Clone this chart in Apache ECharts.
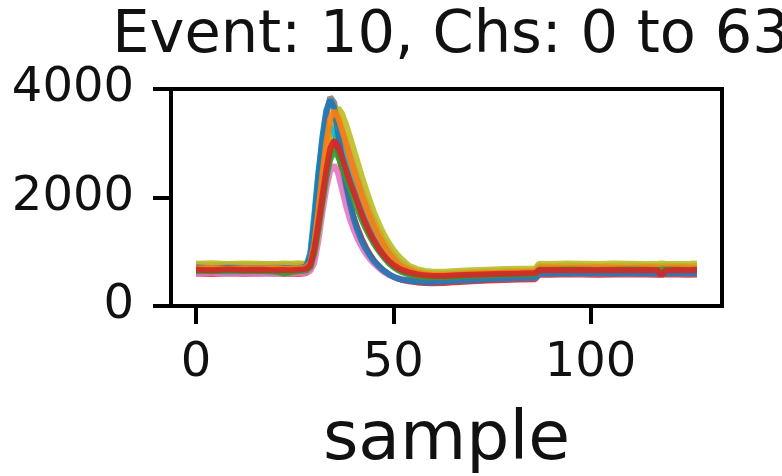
<!DOCTYPE html>
<html>
<head>
<meta charset="utf-8">
<script src="https://cdn.jsdelivr.net/npm/echarts@6.0.0/dist/echarts.min.js"></script>
<style>
  html, body { margin: 0; padding: 0; background: #fff; }
  #chart { width: 782px; height: 476px; }
</style>
</head>
<body>
<div id="chart"></div>
<script>
// sample positions the waveforms are read at
const samples = [0, 4, 8, 12, 16, 20, 22, 24, 26, 27,
  28, 29, 30, 31, 32, 33, 34, 35, 36, 37, 38, 39, 40, 41, 42, 43, 44, 45, 46, 47, 48, 49, 50, 51, 52,
  54, 56, 58, 60, 63, 66, 70, 74, 78, 82, 86,
  87, 90, 94, 98, 102, 106, 110, 114, 117, 118, 119, 122, 125, 127];

// ADC values per channel (last channels of the event, drawn in order)
const ch52 = [720, 730, 715, 725, 720, 710, 725, 720, 730, 720,
  730, 780, 1000, 1400, 1900, 2400, 2780, 2950, 2900, 2740, 2550, 2350, 2150, 1960, 1780, 1610, 1460, 1320, 1190, 1080, 980, 890, 810, 750, 700,
  630, 590, 565, 555, 555, 565, 580, 590, 600, 605, 610,
  690, 695, 685, 690, 695, 690, 685, 695, 690, 685, 690, 695, 690, 685];
const ch53 = [600, 590, 605, 595, 600, 610, 595, 600, 590, 600,
  610, 700, 1150, 1850, 2550, 3050, 3300, 3150, 2850, 2500, 2170, 1880, 1630, 1420, 1240, 1090, 960, 850, 760, 690, 630, 580, 540, 510, 485,
  455, 435, 425, 420, 425, 440, 455, 470, 480, 490, 495,
  580, 575, 585, 580, 575, 580, 585, 580, 575, 580, 585, 580, 575, 580];
const ch54 = [760, 750, 765, 755, 760, 770, 755, 760, 750, 760,
  770, 820, 1050, 1500, 2100, 2700, 3200, 3450, 3400, 3230, 3020, 2800, 2580, 2360, 2150, 1950, 1760, 1590, 1430, 1290, 1160, 1050, 950, 870, 800,
  700, 640, 610, 595, 595, 605, 620, 635, 645, 650, 655,
  740, 735, 745, 740, 735, 740, 745, 740, 735, 740, 745, 740, 735, 740];
const ch55 = [660, 650, 665, 655, 660, 670, 655, 660, 650, 660,
  670, 740, 1050, 1550, 2100, 2650, 3050, 3200, 3100, 2900, 2680, 2450, 2230, 2020, 1820, 1640, 1470, 1320, 1180, 1060, 950, 860, 780, 720, 670,
  610, 570, 550, 540, 540, 550, 565, 575, 585, 590, 595,
  680, 675, 680, 685, 680, 675, 680, 685, 680, 675, 680, 685, 680, 675];
const ch56 = [600, 610, 595, 605, 600, 590, 600, 610, 605, 600,
  610, 650, 800, 1200, 1700, 2150, 2480, 2600, 2450, 2150, 1850, 1600, 1400, 1230, 1090, 970, 870, 790, 720, 660, 610, 570, 540, 515, 500,
  480, 470, 465, 465, 470, 480, 490, 500, 510, 515, 520,
  600, 610, 605, 600, 610, 605, 600, 610, 605, 600, 605, 610, 600, 605];
const ch57 = [700, 705, 695, 700, 710, 700, 695, 700, 705, 700,
  720, 850, 1400, 2200, 2950, 3500, 3850, 3750, 3450, 3100, 2750, 2430, 2150, 1900, 1680, 1490, 1330, 1190, 1070, 970, 880, 800, 740, 690, 650,
  590, 550, 530, 525, 530, 545, 560, 575, 585, 595, 600,
  680, 675, 685, 680, 675, 680, 685, 680, 675, 680, 685, 680, 675, 680];
const ch58 = [780, 790, 775, 785, 780, 770, 785, 780, 790, 780,
  790, 830, 1000, 1400, 1950, 2550, 3100, 3500, 3650, 3550, 3350, 3120, 2880, 2640, 2400, 2170, 1950, 1750, 1570, 1410, 1270, 1150, 1040, 950, 870,
  740, 680, 645, 630, 630, 645, 660, 670, 680, 685, 690,
  780, 775, 785, 780, 775, 785, 780, 775, 780, 785, 780, 775, 780, 785];
const ch59 = [640, 650, 635, 645, 640, 630, 645, 640, 650, 660,
  720, 1000, 1700, 2450, 3000, 3280, 3300, 3200, 3050, 2860, 2660, 2460, 2260, 2070, 1890, 1720, 1560, 1410, 1270, 1150, 1040, 940, 860, 790, 730,
  640, 580, 550, 540, 545, 555, 570, 585, 595, 600, 605,
  690, 695, 690, 700, 695, 690, 700, 695, 690, 695, 690, 700, 695, 690];
const ch60 = [710, 695, 705, 700, 690, 705, 700, 695, 700, 710,
  740, 950, 1600, 2400, 3100, 3600, 3800, 3650, 3200, 2700, 2250, 1900, 1600, 1380, 1200, 1060, 940, 840, 760, 690, 630, 580, 540, 510, 490,
  470, 450, 440, 440, 450, 465, 480, 495, 505, 515, 520,
  600, 605, 600, 610, 605, 600, 610, 605, 600, 605, 600, 610, 605, 600];
const ch61 = [690, 700, 685, 695, 690, 700, 690, 685, 695, 700,
  710, 800, 1150, 1750, 2400, 3000, 3450, 3600, 3480, 3250, 3000, 2750, 2500, 2270, 2050, 1850, 1660, 1490, 1340, 1200, 1080, 970, 880, 800, 740,
  660, 610, 585, 570, 570, 580, 595, 605, 615, 625, 630,
  710, 715, 705, 710, 715, 710, 705, 715, 710, 705, 710, 715, 710, 705];
const ch62 = [650, 640, 655, 645, 650, 640, 600, 620, 645, 650,
  660, 720, 980, 1400, 1900, 2350, 2700, 2850, 2760, 2580, 2370, 2160, 1960, 1770, 1590, 1430, 1290, 1160, 1050, 950, 860, 780, 720, 670, 630,
  580, 545, 530, 525, 530, 540, 555, 565, 575, 580, 585,
  670, 665, 675, 670, 665, 670, 675, 670, 665, 670, 675, 670, 665, 670];
const ch63 = [670, 660, 675, 665, 670, 660, 665, 660, 670, 675,
  690, 760, 1050, 1500, 2000, 2500, 2900, 3050, 2950, 2750, 2520, 2300, 2100, 1900, 1700, 1520, 1360, 1220, 1100, 990, 900, 820, 760, 710, 670,
  620, 585, 565, 555, 555, 565, 575, 585, 595, 600, 610,
  660, 665, 660, 665, 660, 665, 660, 665, 660, 560, 655, 665, 660, 665];

const channels = [ch52, ch53, ch54, ch55, ch56, ch57, ch58, ch59, ch60, ch61, ch62, ch63];
const channelNames = ["52", "53", "54", "55", "56", "57", "58", "59", "60", "61", "62", "63"];

const xTicks = [0, 50, 100];
const yTicks = [0, 2000, 4000];

// matplotlib tab10 cycle, channel n gets colour n % 10
const tab10 = ["#1f77b4", "#ff7f0e", "#2ca02c", "#d62728", "#9467bd",
  "#8c564b", "#e377c2", "#7f7f7f", "#bcbd22", "#17becf"];

const font = "DejaVu Sans";
const chart = echarts.init(document.getElementById("chart"));

const series = channels.map((vals, i) => {
  const color = tab10[Number(channelNames[i]) % 10];
  return {
    name: "ch " + channelNames[i],
    type: "line",
    data: samples.map((s, k) => [s, vals[k]]),
    showSymbol: false,
    lineStyle: { width: 6, color: color, opacity: 0.9 },
    itemStyle: { color: color },
    silent: true,
  };
});

chart.setOption({
  animation: false,
  title: {
    text: "Event: 10, Chs: 0 to 63",
    left: 446,
    top: 2,
    textAlign: "center",
    textStyle: { fontFamily: font, fontSize: 59, fontWeight: "normal", color: "#111" },
  },
  grid: {
    left: 171,
    right: 60,
    top: 89,
    bottom: 166,
    show: true,
    borderColor: "#000",
    borderWidth: 4,
  },
  xAxis: {
    type: "value",
    min: -6.35,
    max: 133.35,
    name: "sample",
    nameLocation: "middle",
    nameGap: 101,
    nameTextStyle: { fontFamily: font, fontSize: 68, color: "#111" },
    splitLine: { show: false },
    axisLine: { show: true, onZero: false, lineStyle: { color: "#000", width: 4 } },
    axisTick: { show: true, inside: false, length: 18, lineStyle: { color: "#000", width: 4 }, customValues: xTicks },
    axisLabel: { fontFamily: font, fontSize: 48, color: "#111", margin: 34, customValues: xTicks },
  },
  yAxis: {
    type: "value",
    min: yTicks[0],
    max: yTicks[yTicks.length - 1],
    interval: 2000,
    splitLine: { show: false },
    axisLine: { show: true, onZero: false, lineStyle: { color: "#000", width: 4 } },
    axisTick: { show: true, inside: false, length: 18, lineStyle: { color: "#000", width: 4 } },
    axisLabel: { fontFamily: font, fontSize: 48, color: "#111", margin: 37, formatter: (v) => String(v) },
  },
  series: series,
});
</script>
</body>
</html>
